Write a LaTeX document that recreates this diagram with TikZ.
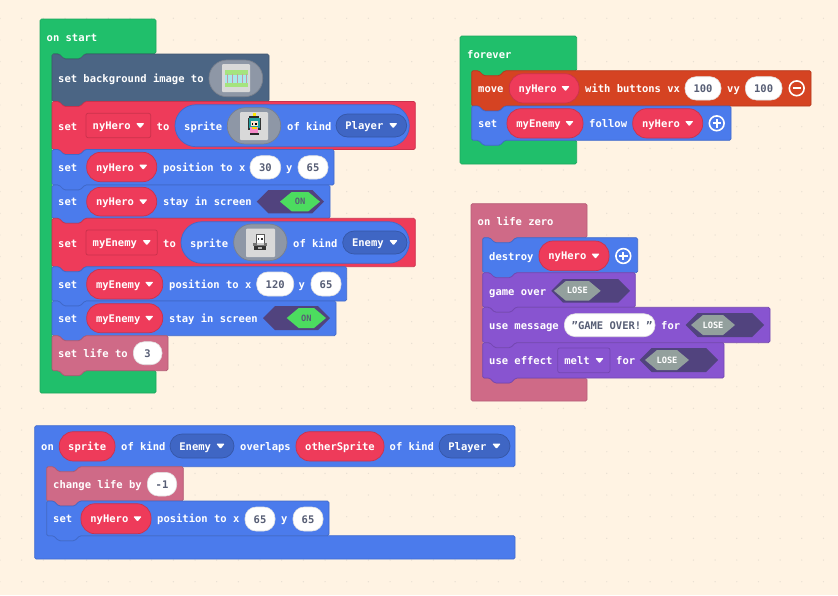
\documentclass[tikz,border=0pt]{standalone}
\usepackage{fontspec}
\setmainfont{DejaVu Sans Mono}[BoldFont={DejaVu Sans Mono Bold},Ligatures=NoCommon]
\definecolor{bgc}{HTML}{FFF3E3}
\definecolor{dotc}{HTML}{E8DFD2}
\definecolor{loopc}{HTML}{20BF6B}
\definecolor{spritec}{HTML}{4B7BEC}
\definecolor{spritedk}{HTML}{3F66C4}
\definecolor{scenec}{HTML}{4B6584}
\definecolor{varc}{HTML}{EE3B5A}
\definecolor{ctrlc}{HTML}{D54322}
\definecolor{gamec}{HTML}{8854D0}
\definecolor{infoc}{HTML}{CF6A87}
\definecolor{valtxt}{HTML}{575E75}
\definecolor{hexdk}{HTML}{51437E}
\definecolor{hexon}{HTML}{4CDC5F}
\definecolor{hexlose}{HTML}{93A09D}
\definecolor{imgpill}{HTML}{8E97A6}
\definecolor{imgbox}{HTML}{D9D9D9}
\definecolor{bggreen}{HTML}{A5E47F}
\definecolor{bgcyan}{HTML}{A9E8EC}
\definecolor{bgpost}{HTML}{C49AA8}
\definecolor{hairc}{HTML}{1F9C9C}
\definecolor{skin}{HTML}{FBE3CF}
\definecolor{dresspink}{HTML}{F58AC8}
\tikzset{
  tx/.style={anchor=base west,inner sep=0pt,text=white,font=\fontsize{10.5}{11}\selectfont\bfseries},
  vx/.style={anchor=base,inner sep=0pt,text=valtxt,font=\fontsize{10.5}{11}\selectfont\bfseries},
  small/.style={anchor=base,inner sep=0pt,font=\fontsize{8.7}{9}\selectfont\bfseries},
  edge/.style={line width=0.7pt,line join=round}
}
% C-shaped container
\newcommand{\cblock}[8]{% x1 y1 x2 y2 ix hy by colour
  \draw[edge,rounded corners=1.5pt,fill=#8,draw=#8!88!black]
   (#1,#2)--(#3,#2)--(#3,#6)--({#5+33},#6)--({#5+28},{#6+5})--({#5+12},{#6+5})--({#5+7},#6)--(#5,#6)
   --(#5,#7)--({#5+7},#7)--({#5+12},{#7+5})--({#5+28},{#7+5})--({#5+33},#7)--(#3,#7)--(#3,#4)--(#1,#4)--cycle;}
% statement block
\newcommand{\stmt}[5]{% x1 y1 x2 y2 colour
  \draw[edge,rounded corners=1.5pt,fill=#5,draw=#5!85!black]
   (#1,#2)--({#1+7},#2)--({#1+12},{#2+5})--({#1+28},{#2+5})--({#1+33},#2)--(#3,#2)--(#3,#4)
   --({#1+33},#4)--({#1+28},{#4+5})--({#1+12},{#4+5})--({#1+7},#4)--(#1,#4)--cycle;}
% white label: name x ycentre text
\newcommand{\tl}[4]{\node[tx] (#1) at (#2,{#3+4}) {#4};}
% arrow of a dropdown
\newcommand{\darr}[2]{\fill[white,rounded corners=0.8pt] ({#1-4.2},{#2-2.3})--({#1+4.2},{#2-2.3})--(#1,{#2+2.8})--cycle;}
% rounded box: x1 y1 x2 y2 radius fill
\newcommand{\rbox}[6]{\draw[edge,rounded corners=#5pt,fill=#6,draw=#6!85!black] (#1,#2) rectangle (#3,#4);}
% dropdown pill: name x1 y1 x2 y2 radius fill text
\newcommand{\dd}[8]{\rbox{#2}{#3}{#4}{#5}{#6}{#7}
  \node[tx] (#1) at ({#2+9.2},{(#3+#5)/2+4}) {#8};
  \darr{#4-13.5}{(#3+#5)/2}}
% square dropdown: name x1 y1 x2 y2 fill text
\newcommand{\ds}[7]{\rbox{#2}{#3}{#4}{#5}{2}{#6}
  \node[tx] (#1) at ({#2+6.5},{(#3+#5)/2+4}) {#7};
  \darr{#4-10.5}{(#3+#5)/2}}
% plain variable pill: name x1 y1 x2 y2 text
\newcommand{\vp}[6]{\rbox{#2}{#3}{#4}{#5}{14}{varc}
  \node[tx,anchor=base] (#1) at ({(#2+#4)/2},{(#3+#5)/2+4}) {#6};}
% numeric value: name x1 y1 x2 y2 text
\newcommand{\val}[6]{\draw[line width=0.6pt,rounded corners=11pt,fill=white,draw=black!12] (#2,#3) rectangle (#4,#5);
  \node[vx] (#1) at ({(#2+#4)/2},{(#3+#5)/2+4}) {#6};}
% hexagon: x1 y1 x2 y2 fill
\newcommand{\hexg}[5]{\fill[#5] (#1,{(#2+#4)/2})--({#1+(#4-#2)/2},#2)--({#3-(#4-#2)/2},#2)--(#3,{(#2+#4)/2})--({#3-(#4-#2)/2},#4)--({#1+(#4-#2)/2},#4)--cycle;}
% toggles
\newcommand{\togon}[7]{\hexg{#2}{#3}{#4}{#5}{hexdk}\hexg{#6}{#3+2}{#7}{#5-2}{hexon}
  \node[small,text=valtxt] (#1) at ({(#6+#7)/2},{(#3+#5)/2+3}) {ON};}
\newcommand{\toglose}[7]{\hexg{#2}{#3}{#4}{#5}{hexdk}\hexg{#6}{#3+2}{#7}{#5-2}{hexlose}
  \node[small,text=white] (#1) at ({(#6+#7)/2},{(#3+#5)/2+3}) {LOSE};}
% plus/minus circles
\newcommand{\pmcirc}[4]{\draw[white,line width=1.6pt] (#1,#2) circle (7.4pt);
  \draw[white,line width=2.2pt] ({#1-4.2},#2)--({#1+4.2},#2);
  \ifnum#3=1 \draw[white,line width=2.2pt] (#1,{#2-4.2})--(#1,{#2+4.2});\fi}
% pixel rectangle
\newcommand{\pr}[5]{\fill[#5] (#1,#2) rectangle ({#1+#3},{#2+#4});}
\begin{document}
\begin{tikzpicture}[x=1pt,y=-1pt]
\useasboundingbox (0,0) rectangle (838,595);
\fill[bgc] (0,0) rectangle (838,595);
\foreach \i in {0,...,38}{\foreach \j in {0,...,27}{
  \fill[dotc] ({\i*21.67},{\j*21.67+18.3}) circle (0.7pt);}}

%% on start
\cblock{40}{19}{156}{393}{52}{53.5}{370.5}{loopc}
\tl{onstart}{46.5}{37}{on start}
\stmt{52}{54}{269}{101.5}{scenec}
\tl{setbg}{58}{78}{set background image to}
\rbox{209}{60}{262.7}{96.7}{18}{imgpill}
\fill[imgbox,rounded corners=1pt] (222,64) rectangle (250,92);
\pr{225}{69.5}{23}{5.5}{bggreen}
\pr{225}{75}{23}{8}{bgcyan}
\foreach \c in {226.5,231.5,236.5,241.5,246}{\pr{\c}{73.5}{1.3}{10}{bgpost}}
\pr{225}{83}{23}{4}{bggreen}

\stmt{52}{101.5}{415.3}{149.5}{varc}
\tl{sethero}{58}{126}{set}
\ds{herodd}{86}{113.3}{150.7}{137.7}{varc}{nyHero}
\tl{toa}{156.5}{126}{to}
\rbox{175}{104.7}{409.3}{146.7}{21}{spritec}
\tl{spra}{184}{126}{sprite}
\rbox{227.3}{107.7}{280.7}{144}{18}{imgpill}
\fill[imgbox,rounded corners=1pt] (240,112) rectangle (268,140);
% hero sprite
\pr{252.5}{113}{3}{3}{yellow!90!orange}
\pr{249}{116}{10}{2}{black!85}
\pr{247.5}{118}{13}{12}{black!80}
\pr{248.5}{118}{11}{10}{hairc}
\pr{250.5}{121}{7}{5}{skin}
\pr{251.5}{123}{1.3}{1.6}{black}\pr{255.2}{123}{1.3}{1.6}{black}
\pr{250}{126.5}{8}{6}{dresspink}
\pr{251.5}{127}{5}{1.5}{yellow!70!orange}
\pr{249.5}{132.5}{9}{2}{black!85}
\tl{kindatxt}{287}{126}{of kind}
\dd{playerdd}{336}{114}{406.7}{137}{11.5}{spritedk}{Player}

\stmt{52}{149.5}{334}{185}{spritec}
\tl{setp}{58}{167}{set}
\dd{hp}{86.7}{152.3}{156.7}{181.7}{14}{varc}{nyHero}
\tl{posa}{163}{167}{position to x}
\val{xa}{250}{155.7}{280.7}{179}{30}
\tl{ya}{286}{167}{y}
\val{ya2}{298}{155.7}{328}{179}{65}

\stmt{52}{185}{330}{218.3}{spritec}
\tl{sets}{58}{201.5}{set}
\dd{hs}{86.7}{187.3}{156.7}{216}{14}{varc}{nyHero}
\tl{staya}{163}{201.5}{stay in screen}
\togon{ona}{256.7}{190}{324}{213.3}{280}{320}

\stmt{52}{218.3}{415.3}{266.7}{varc}
\tl{setene}{58}{243}{set}
\ds{enedd}{86}{230}{157.3}{255}{varc}{myEnemy}
\tl{tob}{163}{243}{to}
\rbox{181}{221.7}{409.3}{263.3}{21}{spritec}
\tl{sprb}{190}{243}{sprite}
\rbox{233.7}{224}{287}{260.7}{18}{imgpill}
\fill[imgbox,rounded corners=1pt] (246,228.7) rectangle (275,257);
% enemy sprite
\pr{255.5}{233.5}{9}{10}{black!65}
\pr{256.5}{234.5}{7}{8}{white}
\pr{257.5}{238}{1.8}{2}{black!80}\pr{261}{238}{1.8}{2}{black!80}
\pr{253}{243}{14}{3}{black!55}
\pr{256.5}{243}{7}{2}{gray!40}
\pr{254}{246}{12}{4}{black!80}
\pr{258}{247}{4}{1.5}{gray!60}
\tl{kindbtxt}{293}{243}{of kind}
\dd{enemydd}{342.7}{231}{407}{254}{11.5}{spritedk}{Enemy}

\stmt{52}{266.7}{346.7}{301}{spritec}
\tl{setq}{58}{284}{set}
\dd{ep}{86.7}{269.3}{162.7}{299}{14}{varc}{myEnemy}
\tl{posb}{169}{284}{position to x}
\val{xb}{256.7}{272}{293.7}{296}{120}
\tl{yb}{298.5}{284}{y}
\val{yb2}{311}{272}{341}{296}{65}

\stmt{52}{301}{336}{335.7}{spritec}
\tl{sett}{58}{318}{set}
\dd{es}{86.7}{303.7}{162.7}{332.7}{14}{varc}{myEnemy}
\tl{stayb}{169}{318}{stay in screen}
\togon{onb}{263}{306}{330}{330}{286.7}{326}

\stmt{52}{335.7}{168}{370.7}{infoc}
\tl{setlife}{58}{353.5}{set life to}
\val{lifev}{133.3}{341.7}{162}{364.7}{3}

%% forever
\cblock{460}{36}{576.7}{164}{471.7}{70.7}{140.3}{loopc}
\tl{forever}{467}{54}{forever}
\stmt{471.7}{70.7}{811}{106}{ctrlc}
\tl{movet}{478}{88.5}{move}
\dd{mh}{509.3}{73.7}{579}{103}{14}{varc}{nyHero}
\tl{withb}{585}{88.5}{with buttons vx}
\val{vxv}{685}{76.7}{721}{100}{100}
\tl{vyt}{727}{88.5}{vy}
\val{vyv}{745.3}{76.7}{782}{100}{100}
\pmcirc{796.7}{88.3}{0}{}
\stmt{471.7}{106}{731}{140.3}{spritec}
\tl{setf}{478}{123.5}{set}
\dd{fe}{507}{108.7}{583}{138}{14}{varc}{myEnemy}
\tl{foll}{589}{123.5}{follow}
\dd{fh}{632.7}{108.7}{702.7}{138}{14}{varc}{nyHero}
\pmcirc{716.7}{123.3}{1}{}

%% on life zero
\cblock{471}{203.7}{587}{401}{482.7}{237.7}{378}{infoc}
\tl{lifez}{477.5}{221.5}{on life zero}
\stmt{482.7}{237.7}{637.7}{272.7}{spritec}
\tl{destr}{489}{256}{destroy}
\dd{dh}{539}{241}{609}{270.7}{14}{varc}{nyHero}
\pmcirc{623.3}{256}{1}{}
\stmt{482.7}{272.7}{635.3}{307.3}{gamec}
\tl{gover}{489}{291}{game over}
\toglose{la}{551.3}{279}{630}{302.7}{554}{600.7}
\stmt{482.7}{307.3}{770}{342.7}{gamec}
\tl{umsg}{489}{325}{use message}
\draw[line width=0.6pt,rounded corners=11pt,fill=white,draw=black!12] (564.3,313.7) rectangle (655,336.7);
\node[vx,anchor=base west] (gotext) at (571.5,329.2) {"GAME OVER!\kern5pt"};
\tl{fora}{661}{325}{for}
\toglose{lb}{685.7}{313}{764}{337}{691}{735}
\stmt{482.7}{342.7}{724}{378}{gamec}
\tl{ueff}{489}{360}{use effect}
\ds{meltdd}{557.7}{348}{610}{372.7}{gamec}{melt}
\tl{forb}{616}{360}{for}
\toglose{lc}{639.7}{348}{718}{372}{645}{689}

%% overlaps
\cblock{34.7}{425.7}{515}{559}{46.7}{466.7}{535.7}{spritec}
\tl{ont}{41}{446.5}{on}
\vp{spv}{59.3}{431.7}{115}{461}{sprite}
\tl{kc}{121}{446.5}{of kind}
\dd{edd}{170}{434}{234}{458}{12}{spritedk}{Enemy}
\tl{over}{240}{446.5}{overlaps}
\vp{osv}{296}{431.7}{384}{461}{otherSprite}
\tl{kd}{389.5}{446.5}{of kind}
\dd{pdd}{439}{434}{510}{458}{12}{spritedk}{Player}
\stmt{46.7}{466.7}{183.3}{501}{infoc}
\tl{chg}{53}{484}{change life by}
\val{dec}{147.3}{472.3}{176.7}{496}{-1}
\stmt{46.7}{501}{329}{535.7}{spritec}
\tl{setr}{53}{518.5}{set}
\dd{rh}{81}{503.7}{151}{533.7}{14}{varc}{nyHero}
\tl{posc}{157}{518.5}{position to x}
\val{xc}{245}{507}{275}{531}{65}
\tl{yc}{281}{518.5}{y}
\val{yc2}{293}{507}{323}{531}{65}
\end{tikzpicture}
\end{document}
